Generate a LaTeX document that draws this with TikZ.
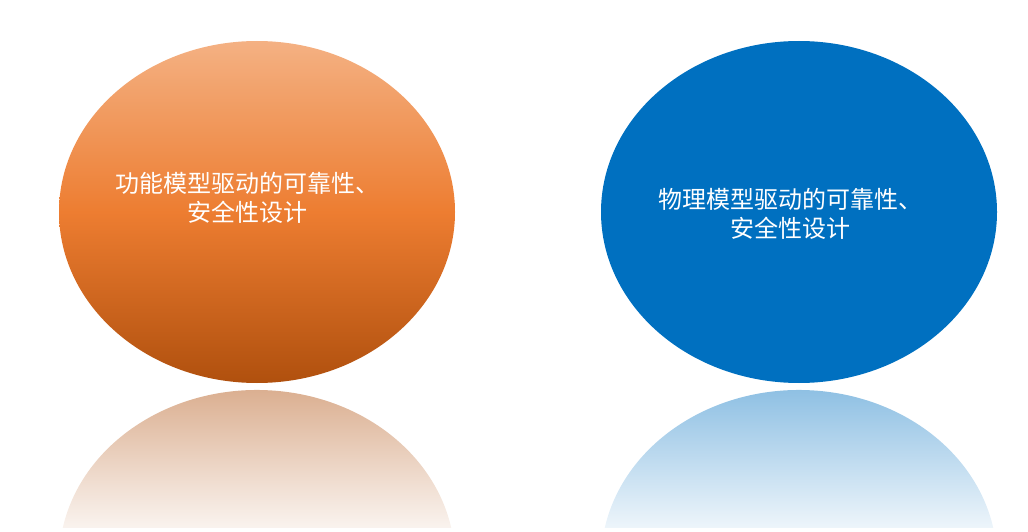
\documentclass[tikz,border=0pt]{standalone}
\usepackage{fontspec}
\newfontfamily\cjk{Noto Sans CJK SC}
\usetikzlibrary{shapes.geometric}
\definecolor{orangetop}{HTML}{F4B183}
\definecolor{orangemid}{HTML}{ED7D31}
\definecolor{orangebot}{HTML}{B0500E}
\definecolor{blueball}{HTML}{0070C0}
\pgfdeclareverticalshading{fadefunc}{100bp}{color(0bp)=(white); color(27bp)=(white);
  color(45bp)=(orangebot!18!white); color(75bp)=(orangebot!50!white); color(100bp)=(orangebot!50!white)}
\pgfdeclareverticalshading{fadephys}{100bp}{color(0bp)=(white); color(27bp)=(white);
  color(45bp)=(blueball!18!white); color(75bp)=(blueball!48!white); color(100bp)=(blueball!48!white)}
\tikzset{ball/.style={ellipse, minimum width=396pt, minimum height=342pt, inner sep=0pt},
  balltext/.style={text=white, align=center, font=\cjk\fontsize{24}{29}\selectfont}}
\begin{document}
\begin{tikzpicture}[x=1pt,y=1pt]

\useasboundingbox (0,0) rectangle (1028,531);
\node[ball, top color=orangetop, bottom color=orangebot, middle color=orangemid] (func) at (257,319) {};
\node[ball, fill=blueball] (phys) at (799,319) {};
\node[balltext] (functext) at ([shift={(-10,14)}]func.center) {功能模型驱动的可靠性、\\安全性设计};
\node[balltext] (phystext) at ([shift={(-9,-2)}]phys.center) {物理模型驱动的可靠性、\\安全性设计};
% reflections
\foreach \x/\s in {257/fadefunc, 799/fadephys} {
  \shade[shading=\s] (\x,-30) ++(168.87:198 and 171)
    arc[start angle=168.87, end angle=11.13, x radius=198, y radius=171] -- cycle;
}

\end{tikzpicture}
\end{document}
